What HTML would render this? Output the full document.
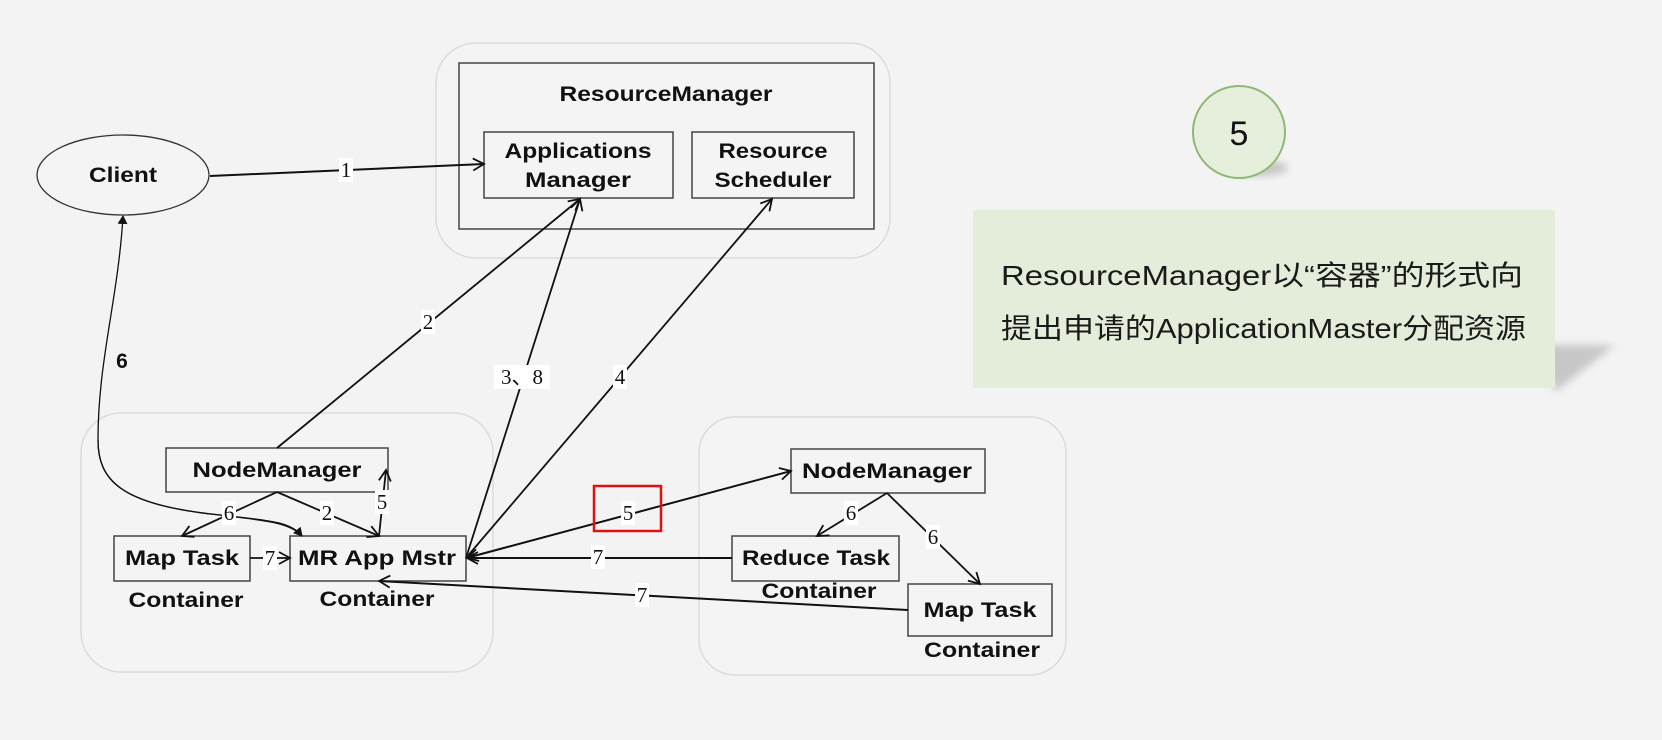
<!DOCTYPE html>
<html><head><meta charset="utf-8"><style>
html,body{margin:0;padding:0;background:#f3f3f3;}
svg{display:block}
.b{font-family:"Liberation Sans",sans-serif;font-weight:bold;font-size:21px;fill:#111;}
.n{font-family:"Liberation Serif",serif;font-size:21px;fill:#111;}
</style></head><body>
<svg width="1662" height="740" viewBox="0 0 1662 740" xmlns="http://www.w3.org/2000/svg">
<defs>
<marker id="a" markerWidth="14" markerHeight="14" refX="12" refY="7" orient="auto" markerUnits="userSpaceOnUse">
<path d="M1,1 L12,7 L1,13" fill="none" stroke="#111" stroke-width="1.8"/></marker>
<marker id="s" markerWidth="10" markerHeight="10" refX="8" refY="5" orient="auto" markerUnits="userSpaceOnUse">
<path d="M0,0 L9,5 L0,10 z" fill="#111"/></marker>
<filter id="sh" x="-20%" y="-20%" width="150%" height="150%"><feGaussianBlur stdDeviation="4"/></filter>
</defs>
<rect width="1662" height="740" fill="#f3f3f3"/>
<!-- containers -->
<rect x="436" y="43" width="454" height="215" rx="40" fill="#f4f4f4" stroke="#d8dce2" stroke-width="1.5"/>
<rect x="81" y="413" width="412" height="259" rx="40" fill="#f4f4f4" stroke="#d8dce2" stroke-width="1.5"/>
<rect x="699" y="417" width="367" height="258" rx="36" fill="#f4f4f4" stroke="#d8dce2" stroke-width="1.5"/>
<!-- RM -->
<rect x="459" y="63" width="415" height="166" fill="#f4f4f4" stroke="#444" stroke-width="1.5"/>
<text class="b" x="666" y="101" text-anchor="middle" textLength="213" lengthAdjust="spacingAndGlyphs">ResourceManager</text>
<rect x="484" y="132" width="189" height="66" fill="#f4f4f4" stroke="#444" stroke-width="1.5"/>
<text class="b" x="578" y="158" text-anchor="middle" textLength="147" lengthAdjust="spacingAndGlyphs">Applications</text>
<text class="b" x="578" y="187" text-anchor="middle" textLength="106" lengthAdjust="spacingAndGlyphs">Manager</text>
<rect x="692" y="132" width="162" height="66" fill="#f4f4f4" stroke="#444" stroke-width="1.5"/>
<text class="b" x="773" y="158" text-anchor="middle" textLength="109" lengthAdjust="spacingAndGlyphs">Resource</text>
<text class="b" x="773" y="187" text-anchor="middle" textLength="117" lengthAdjust="spacingAndGlyphs">Scheduler</text>
<!-- client -->
<ellipse cx="123" cy="175" rx="86" ry="40" fill="#f4f4f4" stroke="#333" stroke-width="1.3"/>
<text class="b" x="123" y="182" text-anchor="middle" textLength="68" lengthAdjust="spacingAndGlyphs">Client</text>
<!-- left boxes -->
<rect x="166" y="448" width="222" height="44" fill="#f4f4f4" stroke="#444" stroke-width="1.5"/>
<text class="b" x="277" y="477" text-anchor="middle" textLength="169" lengthAdjust="spacingAndGlyphs">NodeManager</text>
<rect x="114" y="536" width="136" height="45" fill="#f4f4f4" stroke="#444" stroke-width="1.5"/>
<text class="b" x="182" y="565" text-anchor="middle" textLength="114" lengthAdjust="spacingAndGlyphs">Map Task</text>
<rect x="290" y="536" width="176" height="45" fill="#f4f4f4" stroke="#444" stroke-width="1.5"/>
<text class="b" x="377" y="565" text-anchor="middle" textLength="158" lengthAdjust="spacingAndGlyphs">MR App Mstr</text>
<text class="b" x="186" y="607" text-anchor="middle" textLength="115" lengthAdjust="spacingAndGlyphs">Container</text>
<text class="b" x="377" y="606" text-anchor="middle" textLength="115" lengthAdjust="spacingAndGlyphs">Container</text>
<!-- right boxes -->
<rect x="791" y="449" width="194" height="44" fill="#f4f4f4" stroke="#444" stroke-width="1.5"/>
<text class="b" x="887" y="478" text-anchor="middle" textLength="170" lengthAdjust="spacingAndGlyphs">NodeManager</text>
<rect x="732" y="536" width="167" height="45" fill="#f4f4f4" stroke="#444" stroke-width="1.5"/>
<text class="b" x="816" y="565" text-anchor="middle" textLength="148" lengthAdjust="spacingAndGlyphs">Reduce Task</text>
<text class="b" x="819" y="598" text-anchor="middle" textLength="115" lengthAdjust="spacingAndGlyphs">Container</text>
<rect x="908" y="584" width="144" height="52" fill="#f4f4f4" stroke="#444" stroke-width="1.5"/>
<text class="b" x="980" y="617" text-anchor="middle" textLength="113" lengthAdjust="spacingAndGlyphs">Map Task</text>
<text class="b" x="982" y="657" text-anchor="middle" textLength="116" lengthAdjust="spacingAndGlyphs">Container</text>
<!-- connectors -->
<g stroke="#111" fill="none">
<line x1="210" y1="176" x2="484" y2="164" stroke-width="2" marker-end="url(#a)"/>
<line x1="277" y1="448" x2="580" y2="199" stroke-width="1.8" marker-end="url(#a)"/>
<line x1="466" y1="558" x2="580" y2="199" stroke-width="1.8" marker-end="url(#a)"/>
<line x1="466" y1="558" x2="772" y2="199" stroke-width="1.8" marker-end="url(#a)"/>
<line x1="466" y1="558" x2="791" y2="471" stroke-width="1.8" marker-end="url(#a)"/>
<line x1="791" y1="471" x2="467" y2="558" stroke-width="1.8" marker-end="url(#a)"/>
<line x1="732" y1="558" x2="467" y2="558" stroke-width="2" marker-end="url(#a)"/>
<line x1="908" y1="610" x2="379" y2="581" stroke-width="2" marker-end="url(#a)"/>
<line x1="250" y1="558" x2="290" y2="558" stroke-width="1.8" marker-end="url(#a)"/>
<line x1="277" y1="492" x2="182" y2="536" stroke-width="1.8" marker-end="url(#a)"/>
<line x1="277" y1="492" x2="379" y2="536" stroke-width="1.8" marker-end="url(#a)"/>
<line x1="379" y1="536" x2="386" y2="470" stroke-width="1.8" marker-end="url(#a)"/>
<line x1="887" y1="493" x2="817" y2="536" stroke-width="1.8" marker-end="url(#a)"/>
<line x1="887" y1="493" x2="980" y2="584" stroke-width="1.8" marker-end="url(#a)"/>
<path d="M302,536 C290,520 260,520 220,515 C120,505 98,480 98,440 C98,360 118,300 123,216" stroke-width="1.3" marker-end="url(#s)"/>
<path d="M98,440 C98,480 120,505 220,515 C260,520 290,522 302,536" stroke-width="1.3" marker-end="url(#s)"/>
</g>
<!-- labels -->
<g>
<rect x="339" y="158" width="14" height="24" fill="#fff"/><text class="n" x="346" y="177" text-anchor="middle">1</text>
<rect x="421" y="310" width="14" height="24" fill="#fff"/><text class="n" x="428" y="329" text-anchor="middle">2</text>
<rect x="494" y="365" width="56" height="24" fill="#fff"/><text class="n" x="522" y="384" text-anchor="middle">3、8</text>
<rect x="613" y="365" width="14" height="24" fill="#fff"/><text class="n" x="620" y="384" text-anchor="middle">4</text>
<text class="b" x="122" y="368" text-anchor="middle" font-size="19">6</text>
<rect x="222" y="501" width="14" height="24" fill="#fff"/><text class="n" x="229" y="520" text-anchor="middle">6</text>
<rect x="320" y="501" width="14" height="24" fill="#fff"/><text class="n" x="327" y="520" text-anchor="middle">2</text>
<rect x="375" y="490" width="14" height="24" fill="#fff"/><text class="n" x="382" y="509" text-anchor="middle">5</text>
<rect x="263" y="546" width="14" height="24" fill="#fff"/><text class="n" x="270" y="565" text-anchor="middle">7</text>
<rect x="621" y="501" width="14" height="24" fill="#fff"/><text class="n" x="628" y="520" text-anchor="middle">5</text>
<rect x="591" y="545" width="14" height="24" fill="#fff"/><text class="n" x="598" y="564" text-anchor="middle">7</text>
<rect x="635" y="583" width="14" height="24" fill="#fff"/><text class="n" x="642" y="602" text-anchor="middle">7</text>
<rect x="844" y="501" width="14" height="24" fill="#fff"/><text class="n" x="851" y="520" text-anchor="middle">6</text>
<rect x="926" y="525" width="14" height="24" fill="#fff"/><text class="n" x="933" y="544" text-anchor="middle">6</text>
</g>
<rect x="594" y="486" width="67" height="45" fill="none" stroke="#e01010" stroke-width="2.5"/>
<!-- right panel -->
<ellipse cx="1258" cy="168" rx="30" ry="8" fill="#999" opacity="0.5" filter="url(#sh)"/>
<circle cx="1239" cy="132" r="46" fill="#e5efdb" stroke="#8fb874" stroke-width="2"/>
<text x="1239" y="145" text-anchor="middle" font-family="Liberation Sans,sans-serif" font-size="34" fill="#111">5</text>
<polygon points="1540,345 1615,345 1555,392" fill="#aaa" opacity="0.6" filter="url(#sh)"/>
<rect x="973" y="210" width="582" height="178" fill="#e4ecda"/>
<text x="1001" y="285" font-family="'Liberation Sans','Noto Sans CJK SC',sans-serif" font-size="28" fill="#1a1a1a" textLength="522" lengthAdjust="spacingAndGlyphs">ResourceManager以“容器”的形式向</text>
<text x="1001" y="338" font-family="'Liberation Sans','Noto Sans CJK SC',sans-serif" font-size="28" fill="#1a1a1a" textLength="525" lengthAdjust="spacingAndGlyphs">提出申请的ApplicationMaster分配资源</text>
</svg>
</body></html>
